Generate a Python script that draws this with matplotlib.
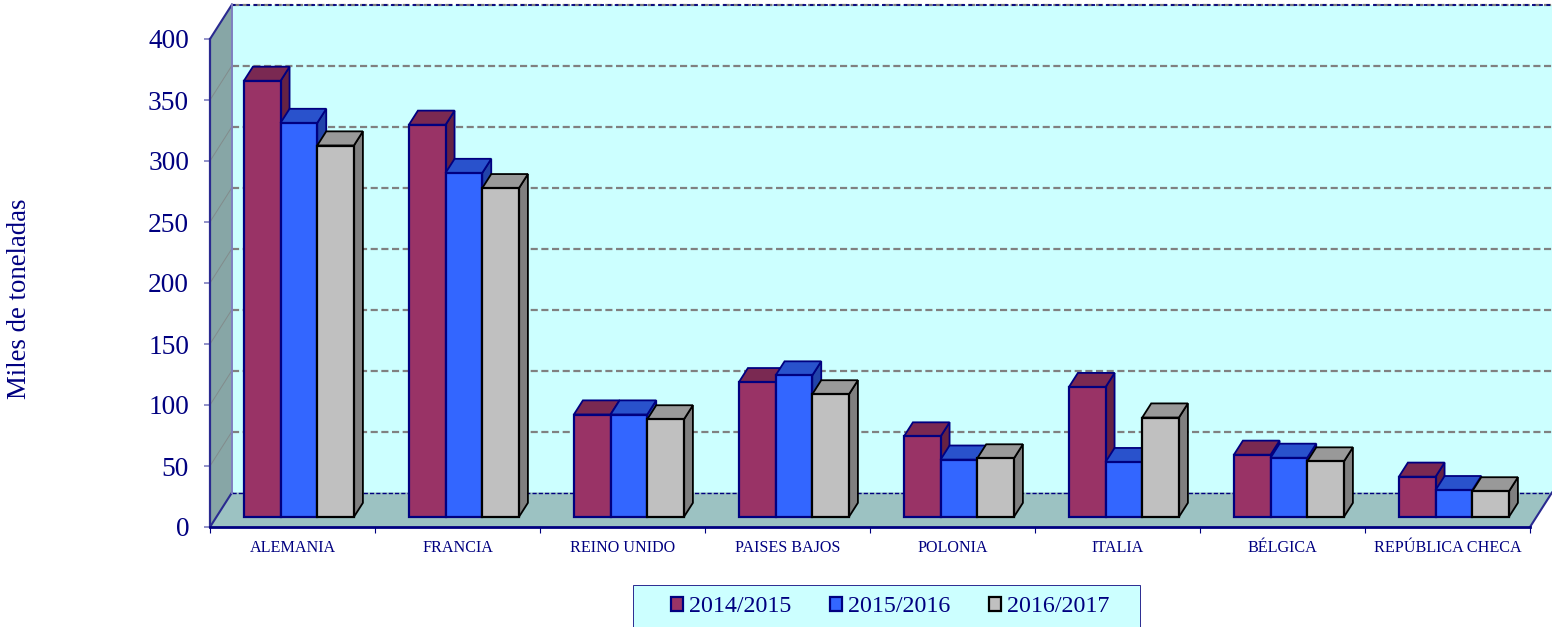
import matplotlib
matplotlib.use('Agg')
import matplotlib.pyplot as plt
from matplotlib.patches import Patch, Rectangle

plt.rcParams['font.family'] = ['Liberation Serif', 'DejaVu Serif']

paises = ['ALEMANIA', 'FRANCIA', 'REINO UNIDO', 'PAISES BAJOS', 'POLONIA', 'ITALIA', 'BÉLGICA', 'REPÚBLICA CHECA']
campanas = ['2014/2015', '2015/2016', '2016/2017']
v_2014 = [357.5, 321.5, 84, 110.5, 66, 106.5, 51, 33]
v_2015 = [323, 282, 84, 116, 47, 45, 48.5, 22]
v_2016 = [304.5, 269.5, 80, 100.5, 48, 81.5, 45.5, 21]
yticks = [0, 50, 100, 150, 200, 250, 300, 350, 400]

azul = '#000080'
frente = ['#993366', '#3366ff', '#c0c0c0']
tapa = ['#7a2952', '#2952cc', '#999999']
lado = ['#662244', '#2244aa', '#808080']
borde = [azul, azul, 'black']

W, H = 1552, 627
x0, x1, y0, y1 = 210, 1530, 527, 39
fig = plt.figure(figsize=(W / 100, H / 100), dpi=100)
ax = fig.add_axes([x0 / W, 1 - y0 / H, (x1 - x0) / W, (y0 - y1) / H])
ax.set_xlim(0, 8)
ax.set_ylim(0, 400)
ax.patch.set_visible(False)

# depth of the fake 3D box, as data units per full depth
DX = 22 / ((x1 - x0) / 8)
DY = 34.5 / ((y0 - y1) / 400)


def pt(x, y, d):
    return (x + d * DX, y + d * DY)


def poly(pts, fc, ec='none', lw=0.0, z=1):
    ax.fill([p[0] for p in pts], [p[1] for p in pts], facecolor=fc, edgecolor=ec,
            linewidth=lw, zorder=z, clip_on=False, joinstyle='miter')


# walls and floor
poly([pt(0, 0, 1), pt(8, 0, 1), pt(8, 400, 1), pt(0, 400, 1)], '#ccffff')
poly([pt(0, 0, 0), pt(0, 0, 1), pt(0, 400, 1), pt(0, 400, 0)], '#87a6a6')
poly([pt(0, 0, 0), pt(8, 0, 0), pt(8, 0, 1), pt(0, 0, 1)], '#9cc2c2')

# grid on back wall and side wall
for v in yticks[1:]:
    a, b = pt(0, v, 1), pt(8, v, 1)
    ax.plot([a[0], b[0]], [a[1], b[1]], color='#808080', lw=1.6, ls=(0, (3.2, 1.6)), zorder=1.2, clip_on=False)
    if v < 400:
        c = pt(0, v, 0)
        ax.plot([c[0], a[0]], [c[1], a[1]], color='#808080', lw=0.7, alpha=0.7, zorder=1.2, clip_on=False)

# box outline
a, b = pt(0, 400, 1), pt(8, 400, 1)
ax.plot([a[0], b[0]], [a[1], b[1]], color=azul, lw=1.3, ls=(0, (2, 2)), zorder=1.3, clip_on=False)
a, b = pt(0, 0, 1), pt(8, 0, 1)
ax.plot([a[0], b[0]], [a[1], b[1]], color=azul, lw=1, ls=(0, (3, 1.5)), zorder=1.3, clip_on=False)
for p, q in [(pt(0, 0, 0), pt(0, 0, 1)), (pt(0, 400, 0), pt(0, 400, 1)), (pt(8, 0, 0), pt(8, 0, 1))]:
    ax.plot([p[0], q[0]], [p[1], q[1]], color='#2a2a90', lw=1.5, zorder=1.3, clip_on=False)
a, b = pt(0, 0, 1), pt(0, 400, 1)
ax.plot([a[0], b[0]], [a[1], b[1]], color='#7f7fc0', lw=1.4, zorder=1.3, clip_on=False)

# bars
ancho = 1 / 4.5
d_front, d_back = 0.29, 0.70
for i in range(len(paises)):
    for j, serie in enumerate([v_2014, v_2015, v_2016]):
        l = i + 1 / 6 + j * ancho
        r = l + ancho
        v = serie[i]
        poly([pt(r, 0, d_front), pt(r, 0, d_back), pt(r, v, d_back), pt(r, v, d_front)], lado[j], borde[j], 1.3, 2)
        poly([pt(l, v, d_front), pt(r, v, d_front), pt(r, v, d_back), pt(l, v, d_back)], tapa[j], borde[j], 1.3, 2)
        poly([pt(l, 0, d_front), pt(r, 0, d_front), pt(r, v, d_front), pt(l, v, d_front)], frente[j], borde[j], 1.6, 2)

# axes
for s in ['top', 'right']:
    ax.spines[s].set_visible(False)
ax.spines['left'].set_color('#2a2a90')
ax.spines['left'].set_linewidth(1.6)
ax.spines['bottom'].set_color(azul)
ax.spines['bottom'].set_linewidth(2)
ax.set_yticks(yticks)
ax.tick_params(axis='y', labelsize=19.7, labelcolor=azul, color='#7f7fc0', length=4, width=1.2, pad=11)
ax.set_xticks(range(9))
ax.set_xticklabels([])
ax.set_xticks([i + 0.5 for i in range(8)], labels=paises, minor=True)
ax.tick_params(axis='x', which='major', color=azul, length=4, width=0.8)
ax.tick_params(axis='x', which='minor', length=0, labelsize=11.6, labelcolor=azul, pad=9.5)

fig.text(20 / W, 1 - 299 / H, 'Miles de toneladas', rotation=90, color=azul, fontsize=19.3, ha='center', va='center')

# legend box is a bit wider than the entries need
fig.add_artist(Rectangle((633 / W, 1 - 626.5 / H), 507 / W, 41.5 / H, transform=fig.transFigure,
                         facecolor='#ccffff', edgecolor='#2a2a90', linewidth=0.7, clip_on=False))
handles = [Patch(facecolor=frente[k], edgecolor=borde[k], linewidth=1.6) for k in range(3)]
leg = fig.legend(handles, campanas, loc='center', bbox_to_anchor=(890.5 / W, 1 - 607 / H), ncol=3,
                 fontsize=17.3, labelcolor=azul, frameon=False, handlelength=0.5, handleheight=0.55,
                 handletextpad=0.25, columnspacing=1.6, borderpad=0, borderaxespad=0)

plt.savefig('out.png', dpi=100)
